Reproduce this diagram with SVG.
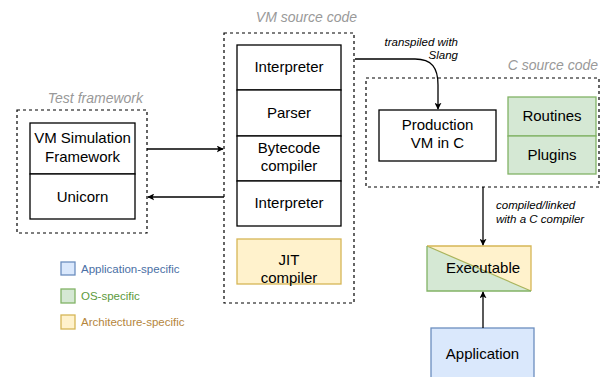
<svg xmlns="http://www.w3.org/2000/svg" width="602" height="377" viewBox="0 0 602 377">
<defs>
<style>
text{font-family:"Liberation Sans",Arial,sans-serif;fill:#000}
.lbl{font-size:15px;text-anchor:middle}
.title{font-size:14px;font-style:italic;fill:#999;text-anchor:end}
.note{font-size:11.5px;font-style:italic}
.leg{font-size:11.5px}
.box{fill:#fff;stroke:#000;stroke-width:1.3}
.grp{fill:none;stroke:#000;stroke-width:1.2;stroke-dasharray:3 3}
.edge{fill:none;stroke:#000;stroke-width:1.3}
.green{fill:#d5e8d4;stroke:#82b366;stroke-width:1.3}
.yellow{fill:#fff2cc;stroke:#d6b656;stroke-width:1.3}
.blue{fill:#dae8fc;stroke:#6c8ebf;stroke-width:1.3}
</style>
<marker id="arr" viewBox="0 0 10 10" refX="9" refY="5" markerWidth="7" markerHeight="7" orient="auto" markerUnits="userSpaceOnUse">
<path d="M0,0 L10,5 L0,10 L2.5,5 Z" fill="#000"/>
</marker>
</defs>

<g id="test-framework">
<rect class="grp" x="17" y="110" width="130" height="123"/>
<text class="title" x="143" y="103">Test framework</text>
</g>
<g id="vm-sim">
<rect class="box" x="30" y="123" width="105" height="51"/>
<text class="lbl" x="82.5" y="143">VM Simulation</text>
<text class="lbl" x="82.5" y="162">Framework</text>
</g>
<g id="unicorn">
<rect class="box" x="30" y="174" width="105" height="45"/>
<text class="lbl" x="82.5" y="202">Unicorn</text>
</g>

<g id="vm-source">
<rect class="grp" x="224" y="33" width="130" height="270"/>
<text class="title" x="357" y="22">VM source code</text>
</g>
<g id="interpreter1">
<rect class="box" x="237" y="45" width="104" height="45"/>
<text class="lbl" x="289" y="72">Interpreter</text>
</g>
<g id="parser">
<rect class="box" x="237" y="90" width="104" height="46"/>
<text class="lbl" x="289" y="118">Parser</text>
</g>
<g id="bytecode">
<rect class="box" x="237" y="136" width="104" height="45"/>
<text class="lbl" x="289" y="153">Bytecode</text>
<text class="lbl" x="289" y="171">compiler</text>
</g>
<g id="interpreter2">
<rect class="box" x="237" y="181" width="104" height="45"/>
<text class="lbl" x="289" y="208">Interpreter</text>
</g>
<g id="jit">
<rect class="yellow" x="237" y="239" width="104" height="45"/>
<text class="lbl" x="289" y="265">JIT</text>
<text class="lbl" x="289" y="283">compiler</text>
</g>

<g id="c-source">
<rect class="grp" x="366" y="78" width="233" height="109"/>
<text class="title" x="598" y="70">C source code</text>
</g>
<g id="production-vm">
<rect class="box" x="379" y="110" width="117" height="51"/>
<text class="lbl" x="437.5" y="130">Production</text>
<text class="lbl" x="437.5" y="148">VM in C</text>
</g>
<g id="routines">
<rect class="green" x="508" y="97" width="88" height="39"/>
<text class="lbl" x="552" y="121">Routines</text>
</g>
<g id="plugins">
<rect class="green" x="508" y="136" width="88" height="38"/>
<text class="lbl" x="552" y="160">Plugins</text>
</g>

<g id="executable">
<polygon points="427,246 531,246 531,291" fill="#fff2cc"/>
<polygon points="427,246 531,291 427,291" fill="#d5e8d4"/>
<path d="M427,246 L531,291" stroke="#a9b45c" stroke-width="1.2" fill="none"/>
<path d="M427,246 H531 V291" stroke="#d6b656" stroke-width="1.3" fill="none"/>
<path d="M427,246 V291 H531" stroke="#82b366" stroke-width="1.3" fill="none"/>
<text class="lbl" x="483" y="273">Executable</text>
</g>
<g id="application">
<rect class="blue" x="431" y="328" width="103" height="60"/>
<text class="lbl" x="482.5" y="359">Application</text>
</g>

<g id="legend">
<rect class="blue" x="61" y="262" width="14" height="13"/>
<text class="leg" x="81" y="273" fill="#4a6fa5" style="fill:#4a6fa5">Application-specific</text>
<rect class="green" x="61" y="289" width="14" height="14"/>
<text class="leg" x="81" y="300" style="fill:#5c9a3c">OS-specific</text>
<rect class="yellow" x="61" y="315" width="14" height="14"/>
<text class="leg" x="81" y="326" style="fill:#b5863c">Architecture-specific</text>
</g>

<g id="connectors">
<path class="edge" d="M147,149 H223" marker-end="url(#arr)"/>
<path class="edge" d="M224,197 H148" marker-end="url(#arr)"/>
<path class="edge" d="M355,59 H415 C432,59 438,68 438,85 V109" marker-end="url(#arr)"/>
<text class="note" x="458" y="46" text-anchor="end">transpiled with</text>
<text class="note" x="458" y="59" text-anchor="end">Slang</text>
<path class="edge" d="M483,187 V245" marker-end="url(#arr)"/>
<text class="note" x="496" y="209">compiled/linked</text>
<text class="note" x="496" y="223">with a C compiler</text>
<path class="edge" d="M483,328 V292" marker-end="url(#arr)"/>
</g>
</svg>
